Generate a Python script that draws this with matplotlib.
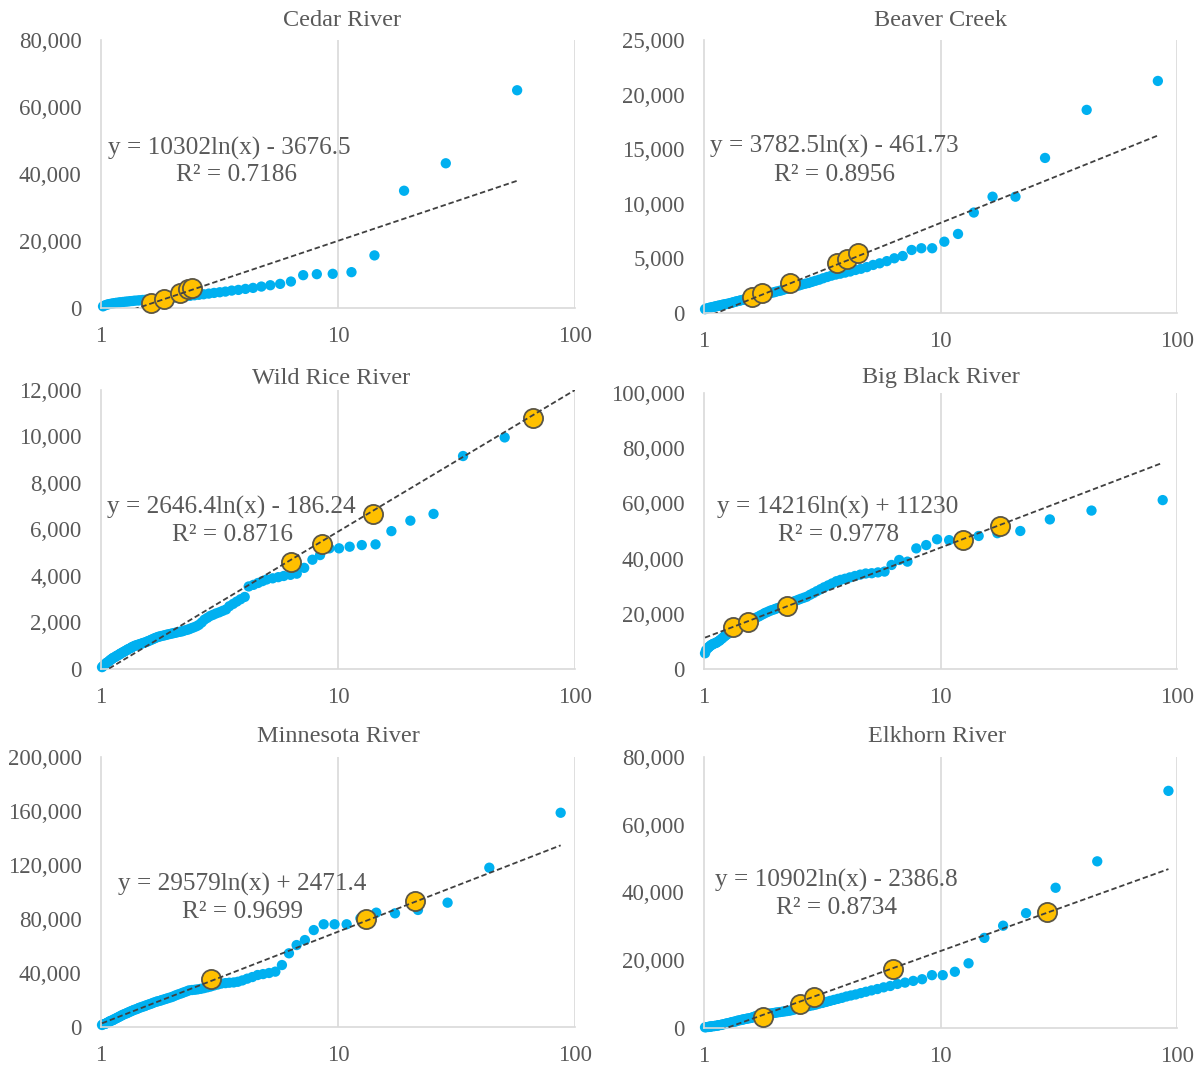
import numpy as np
import matplotlib
matplotlib.use("Agg")
import matplotlib.pyplot as plt
from matplotlib.ticker import FuncFormatter, FixedLocator

# ---------------------------------------------------------------- data
# Return period (years) vs. peak discharge for each river.
cedar_x = [57.0, 28.5, 19.0, 14.25, 11.4, 9.5, 8.14, 7.13, 6.33, 5.7,
           5.18, 4.75, 4.38, 4.07, 3.8, 3.56, 3.35, 3.17, 3.0, 2.85,
           2.71, 2.59, 2.48, 2.38, 2.28, 2.19, 2.11, 2.04, 1.97, 1.9,
           1.84, 1.78, 1.73, 1.68, 1.63, 1.58, 1.54, 1.5, 1.46, 1.43,
           1.39, 1.36, 1.33, 1.30, 1.27, 1.24, 1.21, 1.19, 1.16, 1.14,
           1.12, 1.10, 1.08, 1.06, 1.04, 1.02]
cedar_y = [65000, 43200, 35000, 15700, 10700, 10200, 10100, 9800, 7900, 7200,
           6800, 6400, 6000, 5700, 5400, 5200, 4900, 4700, 4500, 4300,
           4100, 3950, 3800, 3650, 3500, 3350, 3250, 3150, 3050, 2950,
           2900, 2800, 2700, 2650, 2600, 2500, 2450, 2400, 2300, 2250,
           2200, 2100, 2050, 1950, 1900, 1800, 1700, 1650, 1550, 1450,
           1350, 1250, 1150, 1000, 800, 500]
cedar_hx = [1.62, 1.85, 2.15, 2.32, 2.42]
cedar_hy = [1600, 2700, 4400, 5600, 6000]

beaver_x = [83.0, 41.5, 27.67, 20.75, 16.6, 13.83, 11.86, 10.38, 9.22, 8.3,
            7.55, 6.92, 6.38, 5.93, 5.53, 5.19, 4.88, 4.61, 4.37, 4.15,
            3.95, 3.77, 3.61, 3.46, 3.32, 3.19, 3.07, 2.96, 2.86, 2.77,
            2.68, 2.59, 2.52, 2.44, 2.37, 2.31, 2.24, 2.18, 2.13, 2.08,
            2.02, 1.98, 1.93, 1.89, 1.84, 1.80, 1.77, 1.73, 1.69, 1.66,
            1.63, 1.60, 1.57, 1.54, 1.51, 1.48, 1.46, 1.43, 1.41, 1.38,
            1.36, 1.34, 1.32, 1.30, 1.28, 1.26, 1.24, 1.22, 1.20, 1.19,
            1.17, 1.15, 1.14, 1.12, 1.11, 1.09, 1.08, 1.06, 1.05, 1.04,
            1.02, 1.01]
beaver_y = [21250, 18600, 14200, 10650, 10650, 9200, 7240, 6530, 5930, 5930,
            5770, 5220, 5010, 4750, 4550, 4400, 4200, 4050, 3940, 3800,
            3700, 3600, 3520, 3420, 3300, 3180, 3050, 2950, 2850, 2750,
            2680, 2600, 2520, 2440, 2370, 2300, 2220, 2150, 2080, 2020,
            1960, 1900, 1850, 1800, 1740, 1690, 1640, 1590, 1540, 1500,
            1450, 1400, 1360, 1320, 1280, 1240, 1200, 1160, 1120, 1080,
            1040, 1000, 960, 920, 880, 850, 820, 790, 760, 730,
            700, 670, 640, 610, 580, 550, 520, 490, 460, 430,
            400, 350]
beaver_hx = [1.59, 1.76, 2.30, 3.65, 4.02, 4.50]
beaver_hy = [1500, 1800, 2780, 4550, 4920, 5470]

wildrice_x = [50.5, 33.7, 25.3, 20.2, 16.8, 14.4, 12.6, 11.2, 10.1, 9.2,
              8.4, 7.8, 7.2, 6.7, 6.3, 5.9, 5.6, 5.3, 5.0, 4.8,
              4.6, 4.4, 4.2, 4.04, 3.88, 3.74, 3.61, 3.48, 3.37, 3.26,
              3.16, 3.06, 2.97, 2.89, 2.81, 2.73, 2.66, 2.59, 2.53, 2.46,
              2.40, 2.35, 2.30, 2.24, 2.20, 2.15, 2.10, 2.06, 2.02, 1.98,
              1.94, 1.90, 1.87, 1.84, 1.80, 1.77, 1.74, 1.71, 1.68, 1.66,
              1.63, 1.61, 1.58, 1.56, 1.53, 1.51, 1.49, 1.47, 1.45, 1.43,
              1.41, 1.39, 1.37, 1.35, 1.34, 1.32, 1.30, 1.29, 1.27, 1.26,
              1.24, 1.23, 1.21, 1.20, 1.19, 1.17, 1.16, 1.15, 1.13, 1.12,
              1.11, 1.10, 1.09, 1.08, 1.06, 1.05, 1.04, 1.03, 1.02, 1.01]
wildrice_y = [9960, 9160, 6670, 6380, 5930, 5360, 5330, 5260, 5190, 5190,
              4900, 4700, 4350, 4100, 4050, 4000, 3950, 3900, 3850, 3780,
              3700, 3620, 3550, 3100, 3000, 2900, 2800, 2700, 2560, 2500,
              2440, 2390, 2330, 2280, 2200, 2120, 2000, 1900, 1840, 1790,
              1750, 1710, 1680, 1650, 1620, 1600, 1580, 1560, 1540, 1520,
              1500, 1480, 1460, 1440, 1420, 1400, 1380, 1350, 1320, 1290,
              1260, 1230, 1200, 1170, 1140, 1120, 1100, 1080, 1060, 1040,
              1020, 1000, 970, 940, 910, 880, 850, 820, 790, 760,
              730, 700, 670, 640, 610, 580, 550, 520, 490, 460,
              430, 400, 370, 330, 280, 240, 200, 160, 120, 80]
wildrice_hx = [6.35, 8.55, 14.1, 66.6]
wildrice_hy = [4620, 5380, 6670, 10800]

# Big Black and Minnesota share the same record length / plotting positions
rp88_x = [87.0, 43.5, 29.0, 21.75, 17.4, 14.5, 12.43, 10.875, 9.67, 8.7,
          7.9, 7.25, 6.69, 6.21, 5.8, 5.44, 5.12, 4.83, 4.58, 4.35,
          4.14, 3.95, 3.78, 3.63, 3.48, 3.35, 3.22, 3.11, 3.0, 2.9,
          2.81, 2.72, 2.64, 2.56, 2.49, 2.42, 2.35, 2.29, 2.23, 2.18,
          2.12, 2.07, 2.02, 1.98, 1.93, 1.89, 1.85, 1.81, 1.78, 1.74,
          1.71, 1.67, 1.64, 1.61, 1.58, 1.55, 1.53, 1.50, 1.48, 1.45,
          1.43, 1.41, 1.38, 1.36, 1.34, 1.32, 1.30, 1.29, 1.27, 1.25,
          1.23, 1.22, 1.20, 1.19, 1.17, 1.16, 1.14, 1.13, 1.12, 1.10,
          1.09, 1.08, 1.07, 1.06, 1.05, 1.04, 1.02, 1.01]
bigblack_y = [61200, 57400, 54200, 50000, 49200, 48200, 47300, 46700, 47000, 44900,
              43700, 38900, 39500, 37700, 35300, 35000, 34700, 34600, 34200, 33700,
              33200, 32700, 32300, 31800, 31000, 30300, 29600, 28900, 28200, 27500,
              26900, 26200, 25800, 25400, 25000, 24600, 24200, 23800, 23300, 22900,
              22500, 22200, 21900, 21600, 21300, 21000, 20600, 20300, 19900, 19500,
              19100, 18700, 18300, 17900, 17600, 17300, 17000, 16600, 16300, 15900,
              15600, 15300, 14900, 14600, 14200, 13900, 13600, 13300, 12900, 12500,
              12100, 11800, 11300, 11000, 10500, 10200, 9800, 9600, 9400, 9200,
              9000, 8800, 8600, 8300, 8000, 7600, 6800, 5700]
bigblack_hx = [1.33, 1.53, 2.25, 12.4, 17.8]
bigblack_hy = [15100, 17100, 22800, 46700, 51800]

minnesota_y = [158700, 118000, 92100, 86700, 84200, 84700, 80500, 76100, 76100, 76100,
               71800, 64400, 60700, 54600, 45900, 41000, 40000, 39200, 38500, 37000,
               35800, 34500, 33500, 33000, 32800, 32500, 32200, 31500, 30800, 30000,
               29400, 28800, 28300, 27900, 27600, 27400, 27100, 26300, 25600, 24900,
               24200, 23500, 22700, 22100, 21500, 21000, 20500, 20000, 19500, 19100,
               18700, 18100, 17500, 17000, 16500, 16000, 15500, 15100, 14700, 14200,
               13700, 13200, 12700, 12200, 11700, 11200, 10700, 10300, 9900, 9400,
               8900, 8400, 7900, 7400, 6900, 6400, 5900, 5400, 5000, 4600,
               4200, 3800, 3400, 3000, 2600, 2300, 2000, 1500]
minnesota_hx = [2.92, 13.1, 21.2]
minnesota_hy = [35300, 79800, 93500]

elkhorn_x = [92.0, 46.0, 30.67, 23.0, 18.4, 15.33, 13.14, 11.5, 10.22, 9.2,
             8.36, 7.67, 7.08, 6.57, 6.13, 5.75, 5.41, 5.11, 4.84, 4.6,
             4.38, 4.18, 4.0, 3.83, 3.68, 3.54, 3.41, 3.29, 3.17, 3.07,
             2.97, 2.88, 2.79, 2.71, 2.63, 2.56, 2.49, 2.42, 2.36, 2.3,
             2.24, 2.19, 2.14, 2.09, 2.04, 2.0, 1.96, 1.92, 1.88, 1.84,
             1.8, 1.77, 1.74, 1.7, 1.67, 1.64, 1.61, 1.59, 1.56, 1.53,
             1.51, 1.48, 1.46, 1.44, 1.42, 1.39, 1.37, 1.35, 1.33, 1.31,
             1.30, 1.28, 1.26, 1.24, 1.23, 1.21, 1.19, 1.18, 1.16, 1.15,
             1.14, 1.12, 1.11, 1.10, 1.08, 1.07, 1.06, 1.05, 1.04, 1.02, 1.01]
elkhorn_y = [70000, 49200, 41400, 33900, 30200, 26600, 19100, 16600, 15600, 15600,
             14400, 13900, 13400, 13000, 12400, 12000, 11500, 11100, 10700, 10300,
             9900, 9600, 9300, 8900, 8600, 8300, 8000, 7700, 7400, 7200,
             6900, 6700, 6500, 6300, 6100, 5900, 5700, 5500, 5300, 5100,
             5000, 4900, 4800, 4700, 4600, 4500, 4400, 4300, 4200, 4100,
             4000, 3900, 3800, 3700, 3600, 3400, 3200, 3000, 2900, 2800,
             2700, 2600, 2500, 2400, 2300, 2200, 2000, 1900, 1800, 1700,
             1600, 1500, 1400, 1300, 1200, 1100, 1000, 900, 850, 800,
             700, 650, 600, 550, 500, 450, 400, 350, 300, 250, 200]
elkhorn_hx = [1.77, 2.55, 2.92, 6.3, 28.1]
elkhorn_hy = [3260, 7200, 9190, 17400, 34160]

# Logarithmic trendlines y = a*ln(x) + b
titles = ["Cedar River", "Beaver Creek", "Wild Rice River",
          "Big Black River", "Minnesota River", "Elkhorn River"]
trend_a = [10302, 3782.5, 2646.4, 14216, 29579, 10902]
trend_b = [-3676.5, -461.73, -186.24, 11230, 2471.4, -2386.8]
trend_eq = ["y = 10302ln(x) - 3676.5", "y = 3782.5ln(x) - 461.73",
            "y = 2646.4ln(x) - 186.24", "y = 14216ln(x) + 11230",
            "y = 29579ln(x) + 2471.4", "y = 10902ln(x) - 2386.8"]
r_squared = ["0.7186", "0.8956", "0.8716", "0.9778", "0.9699", "0.8734"]
trend_xmax = [57.0, 83.0, 101.0, 87.0, 87.0, 92.0]
y_max = [80000, 25000, 12000, 100000, 200000, 80000]
y_step = [20000, 5000, 2000, 20000, 40000, 20000]
x_ticks = [1, 10, 100]

series_x = [cedar_x, beaver_x, wildrice_x, rp88_x, rp88_x, elkhorn_x]
series_y = [cedar_y, beaver_y, wildrice_y, bigblack_y, minnesota_y, elkhorn_y]
high_x = [cedar_hx, beaver_hx, wildrice_hx, bigblack_hx, minnesota_hx, elkhorn_hx]
high_y = [cedar_hy, beaver_hy, wildrice_hy, bigblack_hy, minnesota_hy, elkhorn_hy]

# ---------------------------------------------------------------- style
W, H = 1203, 1070
TXT = "#595959"
BLUE = "#00B0F0"
GOLD = "#FFC000"
GRID = "#D9D9D9"
plt.rcParams["font.family"] = ["Liberation Serif", "DejaVu Serif"]

fig = plt.figure(figsize=(W / 100, H / 100), dpi=100)
fig.patch.set_facecolor("white")

# plot-area boxes in pixels: left, top, right, bottom
boxes = [(101, 40, 575, 308), (704, 40, 1177, 313),
         (101, 390, 575, 669), (704, 393, 1177, 669),
         (101, 757, 575, 1027), (704, 757, 1177, 1028)]
title_pos = [(342, 20), (941, 20), (331, 378), (941, 378), (338, 736), (937, 736)]
eq_pos = [(229, 148, 236, 175), (834, 146, 835, 175),
          (231, 507, 232, 535), (838, 507, 838, 535),
          (242, 884, 242, 912), (836, 880, 837, 908)]

comma = FuncFormatter(lambda v, p: f"{int(round(v)):,}")

for i in range(6):
    l, t, r, b = boxes[i]
    ax = fig.add_axes([l / W, 1 - b / H, (r - l) / W, (b - t) / H])
    ax.set_xscale("log")
    ax.set_xlim(1, 100)
    ax.set_ylim(0, y_max[i])

    ax.xaxis.set_major_locator(FixedLocator(x_ticks))
    ax.xaxis.set_minor_locator(FixedLocator([]))
    ax.set_xticklabels([str(v) for v in x_ticks])
    ax.yaxis.set_major_locator(FixedLocator(np.arange(0, y_max[i] + 1, y_step[i])))
    ax.yaxis.set_major_formatter(comma)
    ax.tick_params(axis="both", length=0, labelsize=16.5, colors=TXT)
    ax.tick_params(axis="x", pad=13)
    ax.tick_params(axis="y", pad=14)

    for s in ["top", "right"]:
        ax.spines[s].set_visible(False)
    for s in ["left", "bottom"]:
        ax.spines[s].set_color(GRID)
        ax.spines[s].set_linewidth(1.2)
    for gx in [10, 100]:
        ax.axvline(gx, color=GRID, lw=1.2, zorder=0)

    ax.scatter(series_x[i], series_y[i], s=55, color=BLUE, edgecolors="none",
               zorder=2, clip_on=False)
    ax.scatter(high_x[i], high_y[i], s=190, color=GOLD, edgecolors="#5b5646",
               linewidths=1.3, zorder=3, clip_on=False)

    xs = np.geomspace(1.01, trend_xmax[i], 300)
    ax.plot(xs, trend_a[i] * np.log(xs) + trend_b[i], color="#404040",
            lw=1.3, ls=(0, (3, 1.6)), zorder=4)

    tx, ty = title_pos[i]
    fig.text(tx / W, 1 - ty / H, titles[i], ha="center", va="center",
             fontsize=17.5, color=TXT)
    ex, ey, rx, ry = eq_pos[i]
    fig.text(ex / W, 1 - ey / H, trend_eq[i], ha="center", va="center",
             fontsize=18.2, color=TXT)
    fig.text(rx / W, 1 - ry / H, "R\u00b2 = " + r_squared[i], ha="center",
             va="center", fontsize=18.2, color=TXT)

fig.savefig("out.png", dpi=100, facecolor="white")
